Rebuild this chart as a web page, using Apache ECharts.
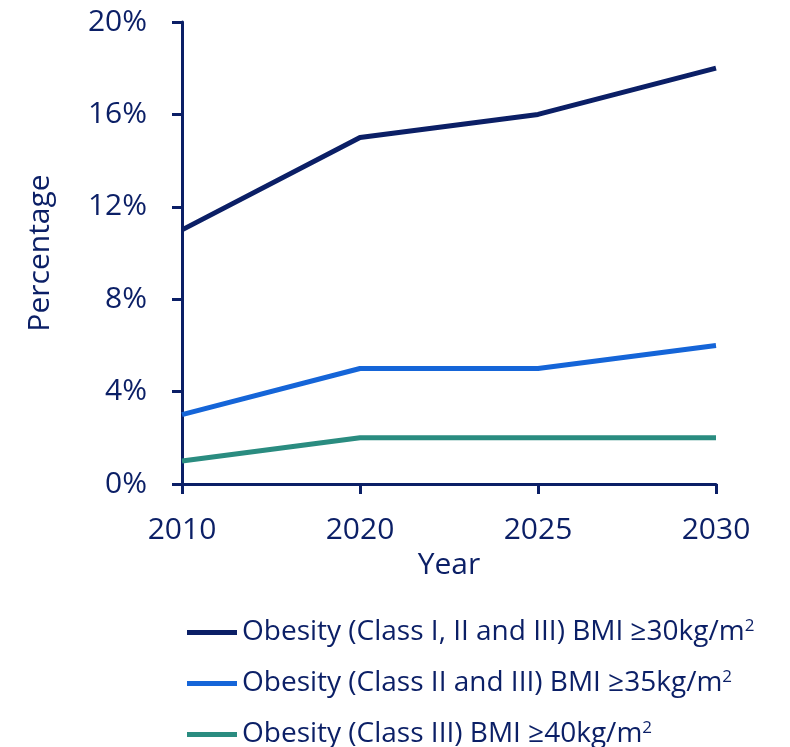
<!DOCTYPE html>
<html>
<head>
<meta charset="utf-8">
<script src="https://cdn.jsdelivr.net/npm/echarts@6/dist/echarts.min.js"></script>
<style>
  html, body { margin: 0; padding: 0; background: #fff; }
  #chart { width: 790px; height: 747px; }
</style>
</head>
<body>
<div id="chart"></div>
<script>
var years = ['2010', '2020', '2025', '2030'];
var classAll = [11, 15, 16, 18];
var class23 = [3, 5, 5, 6];
var class3 = [1, 2, 2, 2];
var seriesNames = [
    'Obesity (Class I, II and III) BMI \u226530kg/m2',
    'Obesity (Class II and III) BMI \u226535kg/m2',
    'Obesity (Class III) BMI \u226540kg/m2'
];
var navy = '#0b1f66';

var chart = echarts.init(document.getElementById('chart'));
var option = {
    animation: false,
    textStyle: { fontFamily: 'Open Sans' },
    grid: { left: 182, right: 74, top: 22, bottom: 263 },
    legend: {
        orient: 'vertical',
        left: 187,
        top: 618,
        height: 200,
        padding: 0,
        itemWidth: 50,
        itemHeight: 5,
        itemGap: 22,
        icon: 'rect',
        textStyle: {
            fontSize: 28,
            color: navy,
            rich: {
                t: { fontSize: 28, color: navy, lineHeight: 30 },
                sup: { fontSize: 17, color: navy, lineHeight: 30, padding: [0, 0, 12, 0] }
            }
        },
        formatter: function (name) {
            return '{t|' + name.slice(0, -1) + '}{sup|2}';
        },
        data: seriesNames
    },
    xAxis: {
        type: 'category',
        data: years,
        boundaryGap: false,
        name: 'Year',
        nameLocation: 'middle',
        nameGap: 66,
        nameTextStyle: { fontSize: 30, color: navy },
        axisLine: { lineStyle: { color: navy, width: 3 } },
        axisTick: { length: 10, lineStyle: { color: navy, width: 3 } },
        axisLabel: { fontSize: 30, color: navy, margin: 31 },
        splitLine: { show: false }
    },
    yAxis: {
        type: 'value',
        min: 0,
        max: 20,
        interval: 4,
        name: 'Percentage',
        nameLocation: 'middle',
        nameGap: 127,
        nameTextStyle: { fontSize: 30, color: navy },
        axisLine: { show: true, lineStyle: { color: navy, width: 3 } },
        axisTick: { show: true, length: 10, lineStyle: { color: navy, width: 3 } },
        axisLabel: { fontSize: 30, color: navy, margin: 35, formatter: '{value}%' },
        splitLine: { show: false }
    },
    series: [
        { name: seriesNames[0], type: 'line', data: classAll, symbol: 'none',
          lineStyle: { width: 5, color: navy }, itemStyle: { color: navy } },
        { name: seriesNames[1], type: 'line', data: class23, symbol: 'none',
          lineStyle: { width: 5, color: '#1565d8' }, itemStyle: { color: '#1565d8' } },
        { name: seriesNames[2], type: 'line', data: class3, symbol: 'none',
          lineStyle: { width: 5, color: '#2a8c80' }, itemStyle: { color: '#2a8c80' } }
    ]
};
chart.setOption(option);
window.onresize = chart.resize;
</script>
</body>
</html>
